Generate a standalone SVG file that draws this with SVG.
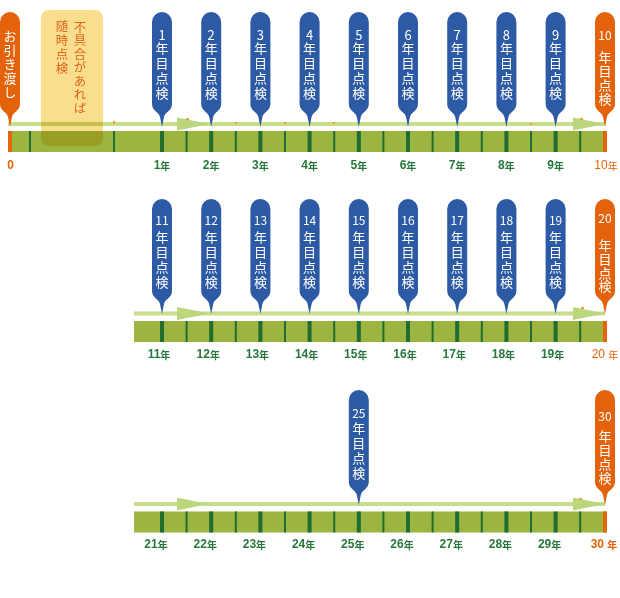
<svg xmlns="http://www.w3.org/2000/svg" xmlns:xlink="http://www.w3.org/1999/xlink" width="620" height="598" viewBox="0 0 620 598">
<style>
.bar{fill:#9cb440}
.maj{fill:#1e6e32}
.min{fill:#1e6e32}
.ot{fill:#e6640a}
.ln{fill:#c8de8c}
.ah{fill:#bcd67e}
.dot{fill:#f0a030}
.blue{fill:#2d5aa5}
.orange{fill:#e3620a}
.h{dominant-baseline:central}
.pt{fill:#fff;font-family:"Noto Sans CJK JP","Noto Sans",sans-serif;font-size:13px;text-anchor:middle}
.pn{font-size:13px}
.pno{font-size:12px}
.v{writing-mode:vertical-rl;text-orientation:upright;text-anchor:start;font-family:"Noto Sans CJK JP","Noto Sans",sans-serif}
.vw{fill:#fff;font-size:13px;letter-spacing:1.7px}
.vo{fill:#fff;font-size:13px;letter-spacing:0.8px}
.bt{fill:#e3651c;font-size:12.5px}
.yl{fill:#28783c;font-family:"Liberation Sans","Noto Sans CJK JP",sans-serif;font-weight:bold;font-size:12px;text-anchor:middle}
.yo{fill:#e3620a;font-family:"Liberation Sans","Noto Sans CJK JP",sans-serif;font-size:12px;text-anchor:middle}
.k{font-family:"Noto Sans CJK JP",sans-serif;font-size:10px}
.box{fill:#f5c842;opacity:0.6;mix-blend-mode:multiply}
</style>
<defs>
<path id="pin" d="M-10,10 A10,10 0 0 1 10,10 V92 C10,99 3,100 2,105 L0,115 L-2,105 C-3,100 -10,99 -10,92 Z"/>
</defs>

<!-- Row 1 timeline -->
<g id="row1-bar">
<rect class="bar" x="8" y="131" width="599" height="21"/>
<rect class="ot" x="8" y="131" width="4" height="21"/>
<rect class="min" x="29" y="131" width="2" height="21"/>
<rect class="min" x="113" y="131" width="2" height="21"/>
<rect class="maj" x="160" y="131" width="4" height="21"/>
<rect class="min" x="185.6" y="131" width="2" height="21"/>
<rect class="maj" x="209.2" y="131" width="4" height="21"/>
<rect class="min" x="234.8" y="131" width="2" height="21"/>
<rect class="maj" x="258.4" y="131" width="4" height="21"/>
<rect class="min" x="284" y="131" width="2" height="21"/>
<rect class="maj" x="307.6" y="131" width="4" height="21"/>
<rect class="min" x="333.2" y="131" width="2" height="21"/>
<rect class="maj" x="356.8" y="131" width="4" height="21"/>
<rect class="min" x="382.4" y="131" width="2" height="21"/>
<rect class="maj" x="406" y="131" width="4" height="21"/>
<rect class="min" x="431.6" y="131" width="2" height="21"/>
<rect class="maj" x="455.2" y="131" width="4" height="21"/>
<rect class="min" x="480.8" y="131" width="2" height="21"/>
<rect class="maj" x="504.4" y="131" width="4" height="21"/>
<rect class="min" x="530" y="131" width="2" height="21"/>
<rect class="maj" x="553.6" y="131" width="4" height="21"/>
<rect class="min" x="579.2" y="131" width="2" height="21"/>
<rect class="ot" x="603" y="131" width="4" height="21"/>
</g>

<!-- Row 2 timeline -->
<g id="row2-bar">
<rect class="bar" x="134" y="321" width="473" height="21"/>
<rect class="maj" x="160" y="321" width="4" height="21"/>
<rect class="min" x="185.6" y="321" width="2" height="21"/>
<rect class="maj" x="209.2" y="321" width="4" height="21"/>
<rect class="min" x="234.8" y="321" width="2" height="21"/>
<rect class="maj" x="258.4" y="321" width="4" height="21"/>
<rect class="min" x="284" y="321" width="2" height="21"/>
<rect class="maj" x="307.6" y="321" width="4" height="21"/>
<rect class="min" x="333.2" y="321" width="2" height="21"/>
<rect class="maj" x="356.8" y="321" width="4" height="21"/>
<rect class="min" x="382.4" y="321" width="2" height="21"/>
<rect class="maj" x="406" y="321" width="4" height="21"/>
<rect class="min" x="431.6" y="321" width="2" height="21"/>
<rect class="maj" x="455.2" y="321" width="4" height="21"/>
<rect class="min" x="480.8" y="321" width="2" height="21"/>
<rect class="maj" x="504.4" y="321" width="4" height="21"/>
<rect class="min" x="530" y="321" width="2" height="21"/>
<rect class="maj" x="553.6" y="321" width="4" height="21"/>
<rect class="min" x="579.2" y="321" width="2" height="21"/>
<rect class="ot" x="603" y="321" width="4" height="21"/>
</g>

<!-- Row 3 timeline -->
<g id="row3-bar">
<rect class="bar" x="134" y="511.5" width="473" height="21"/>
<rect class="maj" x="160" y="511.5" width="4" height="21"/>
<rect class="min" x="185.6" y="511.5" width="2" height="21"/>
<rect class="maj" x="209.2" y="511.5" width="4" height="21"/>
<rect class="min" x="234.8" y="511.5" width="2" height="21"/>
<rect class="maj" x="258.4" y="511.5" width="4" height="21"/>
<rect class="min" x="284" y="511.5" width="2" height="21"/>
<rect class="maj" x="307.6" y="511.5" width="4" height="21"/>
<rect class="min" x="333.2" y="511.5" width="2" height="21"/>
<rect class="maj" x="356.8" y="511.5" width="4" height="21"/>
<rect class="min" x="382.4" y="511.5" width="2" height="21"/>
<rect class="maj" x="406" y="511.5" width="4" height="21"/>
<rect class="min" x="431.6" y="511.5" width="2" height="21"/>
<rect class="maj" x="455.2" y="511.5" width="4" height="21"/>
<rect class="min" x="480.8" y="511.5" width="2" height="21"/>
<rect class="maj" x="504.4" y="511.5" width="4" height="21"/>
<rect class="min" x="530" y="511.5" width="2" height="21"/>
<rect class="maj" x="553.6" y="511.5" width="4" height="21"/>
<rect class="min" x="579.2" y="511.5" width="2" height="21"/>
<rect class="ot" x="603" y="511.5" width="4" height="21"/>
</g>

<!-- Connectors: progress arrows -->
<g id="connectors">
<rect class="ln" x="8" y="122" width="597" height="4"/>
<polygon class="ah" points="177,117.5 210,124 177,130.5"/>
<polygon class="ah" points="573,117.5 605,124 573,130.5"/>
<rect class="dot" x="113" y="121" width="2" height="3"/>
<rect class="dot" x="186" y="118" width="3" height="2"/>
<rect class="dot" x="235" y="122" width="2" height="2"/>
<rect class="dot" x="284" y="122" width="2" height="2"/>
<rect class="dot" x="333" y="122" width="2" height="2"/>
<rect class="dot" x="530" y="123" width="2" height="2"/>
<rect class="dot" x="580" y="118" width="3" height="2"/>

<rect class="ln" x="134" y="311.5" width="471" height="4"/>
<polygon class="ah" points="177,307 210,313.5 177,320"/>
<polygon class="ah" points="573,307 605,313.5 573,320"/>
<rect class="dot" x="581" y="307" width="3" height="2"/>

<rect class="ln" x="134" y="502" width="471" height="4"/>
<polygon class="ah" points="177,497.5 208,504 177,510.5"/>
<polygon class="ah" points="573,497.5 605,504 573,510.5"/>
<rect class="dot" x="579" y="498" width="3" height="2"/>
</g>

<!-- Irregular-inspection note -->
<g id="note-anytime">
<rect class="box" x="41" y="10" width="62" height="136" rx="8"/>
<text class="v bt" x="80" y="20.75" style="letter-spacing:1px">不具合があれば</text>
<text class="v bt" x="62" y="19.75" style="letter-spacing:1.5px">随時点検</text>
</g>

<!-- Handover pin -->
<g id="pin-handover">
<use xlink:href="#pin" x="10" y="12" class="orange"/>
<text class="v vw" x="10" y="29.5" style="letter-spacing:1.1px">お引き渡し</text>
</g>

<!-- Row 1 pins -->
<g id="pin-1"><use xlink:href="#pin" x="162" y="12" class="blue"/><text class="pt h pn" x="162" y="34">1</text><text class="v vw" x="162" y="42">年目点検</text></g>
<g id="pin-2"><use xlink:href="#pin" x="211.2" y="12" class="blue"/><text class="pt h pn" x="211.2" y="34">2</text><text class="v vw" x="211.2" y="42">年目点検</text></g>
<g id="pin-3"><use xlink:href="#pin" x="260.4" y="12" class="blue"/><text class="pt h pn" x="260.4" y="34">3</text><text class="v vw" x="260.4" y="42">年目点検</text></g>
<g id="pin-4"><use xlink:href="#pin" x="309.6" y="12" class="blue"/><text class="pt h pn" x="309.6" y="34">4</text><text class="v vw" x="309.6" y="42">年目点検</text></g>
<g id="pin-5"><use xlink:href="#pin" x="358.8" y="12" class="blue"/><text class="pt h pn" x="358.8" y="34">5</text><text class="v vw" x="358.8" y="42">年目点検</text></g>
<g id="pin-6"><use xlink:href="#pin" x="408" y="12" class="blue"/><text class="pt h pn" x="408" y="34">6</text><text class="v vw" x="408" y="42">年目点検</text></g>
<g id="pin-7"><use xlink:href="#pin" x="457.2" y="12" class="blue"/><text class="pt h pn" x="457.2" y="34">7</text><text class="v vw" x="457.2" y="42">年目点検</text></g>
<g id="pin-8"><use xlink:href="#pin" x="506.4" y="12" class="blue"/><text class="pt h pn" x="506.4" y="34">8</text><text class="v vw" x="506.4" y="42">年目点検</text></g>
<g id="pin-9"><use xlink:href="#pin" x="555.6" y="12" class="blue"/><text class="pt h pn" x="555.6" y="34">9</text><text class="v vw" x="555.6" y="42">年目点検</text></g>
<g id="pin-10"><use xlink:href="#pin" x="605" y="12" class="orange"/><text class="pt h pno" x="605" y="34.5">10</text><text class="v vo" x="605" y="51">年目点検</text></g>

<!-- Row 2 pins -->
<g id="pin-11"><use xlink:href="#pin" x="162" y="199" class="blue"/><text class="pt h pno" x="162" y="219">11</text><text class="v vw" x="162" y="231">年目点検</text></g>
<g id="pin-12"><use xlink:href="#pin" x="211.2" y="199" class="blue"/><text class="pt h pno" x="211.2" y="219">12</text><text class="v vw" x="211.2" y="231">年目点検</text></g>
<g id="pin-13"><use xlink:href="#pin" x="260.4" y="199" class="blue"/><text class="pt h pno" x="260.4" y="219">13</text><text class="v vw" x="260.4" y="231">年目点検</text></g>
<g id="pin-14"><use xlink:href="#pin" x="309.6" y="199" class="blue"/><text class="pt h pno" x="309.6" y="219">14</text><text class="v vw" x="309.6" y="231">年目点検</text></g>
<g id="pin-15"><use xlink:href="#pin" x="358.8" y="199" class="blue"/><text class="pt h pno" x="358.8" y="219">15</text><text class="v vw" x="358.8" y="231">年目点検</text></g>
<g id="pin-16"><use xlink:href="#pin" x="408" y="199" class="blue"/><text class="pt h pno" x="408" y="219">16</text><text class="v vw" x="408" y="231">年目点検</text></g>
<g id="pin-17"><use xlink:href="#pin" x="457.2" y="199" class="blue"/><text class="pt h pno" x="457.2" y="219">17</text><text class="v vw" x="457.2" y="231">年目点検</text></g>
<g id="pin-18"><use xlink:href="#pin" x="506.4" y="199" class="blue"/><text class="pt h pno" x="506.4" y="219">18</text><text class="v vw" x="506.4" y="231">年目点検</text></g>
<g id="pin-19"><use xlink:href="#pin" x="555.6" y="199" class="blue"/><text class="pt h pno" x="555.6" y="219">19</text><text class="v vw" x="555.6" y="231">年目点検</text></g>
<g id="pin-20"><use xlink:href="#pin" x="605" y="199" class="orange"/><text class="pt h pno" x="605" y="217">20</text><text class="v vo" x="605" y="238.5">年目点検</text></g>

<!-- Row 3 pins -->
<g id="pin-25"><use xlink:href="#pin" x="358.8" y="390" class="blue"/><text class="pt h pno" x="358.8" y="412">25</text><text class="v vw" x="358.8" y="422">年目点検</text></g>
<g id="pin-30"><use xlink:href="#pin" x="605" y="390" class="orange"/><text class="pt h pno" x="605" y="415">30</text><text class="v vo" x="605" y="430">年目点検</text></g>

<!-- Year labels -->
<g id="labels-row1">
<text class="yo h" x="10.5" y="164.5" font-weight="bold">0</text>
<text class="yl h" x="162" y="165">1<tspan class="k">年</tspan></text>
<text class="yl h" x="211.2" y="165">2<tspan class="k">年</tspan></text>
<text class="yl h" x="260.4" y="165">3<tspan class="k">年</tspan></text>
<text class="yl h" x="309.6" y="165">4<tspan class="k">年</tspan></text>
<text class="yl h" x="358.8" y="165">5<tspan class="k">年</tspan></text>
<text class="yl h" x="408" y="165">6<tspan class="k">年</tspan></text>
<text class="yl h" x="457.2" y="165">7<tspan class="k">年</tspan></text>
<text class="yl h" x="506.4" y="165">8<tspan class="k">年</tspan></text>
<text class="yl h" x="555.6" y="165">9<tspan class="k">年</tspan></text>
<text class="yo h" x="606" y="165">10<tspan class="k">年</tspan></text>
</g>
<g id="labels-row2">
<text class="yl h" x="159" y="353.5">11<tspan class="k">年</tspan></text>
<text class="yl h" x="208.2" y="353.5">12<tspan class="k">年</tspan></text>
<text class="yl h" x="257.4" y="353.5">13<tspan class="k">年</tspan></text>
<text class="yl h" x="306.6" y="353.5">14<tspan class="k">年</tspan></text>
<text class="yl h" x="355.8" y="353.5">15<tspan class="k">年</tspan></text>
<text class="yl h" x="405" y="353.5">16<tspan class="k">年</tspan></text>
<text class="yl h" x="454.2" y="353.5">17<tspan class="k">年</tspan></text>
<text class="yl h" x="503.4" y="353.5">18<tspan class="k">年</tspan></text>
<text class="yl h" x="552.6" y="353.5">19<tspan class="k">年</tspan></text>
<text class="yo h" x="605" y="353.5">20 <tspan class="k">年</tspan></text>
</g>
<g id="labels-row3">
<text class="yl h" x="156" y="544">21<tspan class="k">年</tspan></text>
<text class="yl h" x="205.2" y="544">22<tspan class="k">年</tspan></text>
<text class="yl h" x="254.4" y="544">23<tspan class="k">年</tspan></text>
<text class="yl h" x="303.6" y="544">24<tspan class="k">年</tspan></text>
<text class="yl h" x="352.8" y="544">25<tspan class="k">年</tspan></text>
<text class="yl h" x="402" y="544">26<tspan class="k">年</tspan></text>
<text class="yl h" x="451.2" y="544">27<tspan class="k">年</tspan></text>
<text class="yl h" x="500.4" y="544">28<tspan class="k">年</tspan></text>
<text class="yl h" x="549.6" y="544">29<tspan class="k">年</tspan></text>
<text class="yo h" x="604" y="544" font-weight="bold">30 <tspan class="k">年</tspan></text>
</g>
</svg>
